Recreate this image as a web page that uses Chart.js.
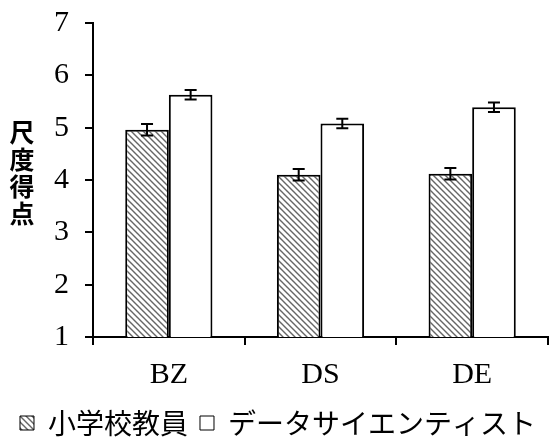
<!DOCTYPE html>
<html>
<head>
<meta charset="utf-8">
<script src="https://cdn.jsdelivr.net/npm/chart.js@4.4.1/dist/chart.umd.min.js"></script>
<style>
  html, body { margin: 0; padding: 0; background: #fff; }
  #wrap { width: 549px; height: 447px; position: relative; }
</style>
</head>
<body>
<div id="wrap"><canvas id="c"></canvas></div>
<script>
// Scale scores by group and subscale
const categories = ['BZ', 'DS', 'DE'];
const seriesNames = ['小学校教員', 'データサイエンティスト'];
const teacherMeans = [4.96, 4.10, 4.12];
const teacherErrors = [0.11, 0.11, 0.11];
const scientistMeans = [5.63, 5.08, 5.39];
const scientistErrors = [0.09, 0.09, 0.09];
const yTicks = [1, 2, 3, 4, 5, 6, 7];
const yTitleChars = ['尺', '度', '得', '点'];

const serif = "'Liberation Serif', 'Times New Roman', serif";
const cjk = "'Noto Sans CJK JP', 'Noto Sans', sans-serif";

// Diagonal hatch fill for the first series
function makeHatch() {
  const size = 6;
  const t = document.createElement('canvas');
  t.width = size; t.height = size;
  const g = t.getContext('2d');
  g.fillStyle = '#fff';
  g.fillRect(0, 0, size, size);
  g.strokeStyle = '#666';
  g.lineWidth = 1.4;
  g.beginPath();
  g.moveTo(-1, -1); g.lineTo(size + 1, size + 1);
  g.moveTo(-1, size - 1); g.lineTo(1, size + 1);
  g.moveTo(size - 1, -1); g.lineTo(size + 1, 1);
  g.stroke();
  return g.createPattern(t, 'repeat');
}
const ctx = document.getElementById('c').getContext('2d');
const hatch = makeHatch();

// Error bars drawn from the dataset errors through the y scale
const errorBars = {
  id: 'errorBars',
  afterDatasetsDraw(chart) {
    const c = chart.ctx;
    const y = chart.scales.y;
    chart.data.datasets.forEach((ds, di) => {
      const meta = chart.getDatasetMeta(di);
      meta.data.forEach((bar, i) => {
        const v = ds.data[i], e = ds.errors[i];
        const yTop = y.getPixelForValue(v + e);
        const yBot = y.getPixelForValue(v - e);
        const x = bar.x, half = 6;
        c.save();
        c.strokeStyle = '#000';
        c.lineWidth = 2;
        c.beginPath();
        c.moveTo(x, yTop); c.lineTo(x, yBot);
        c.moveTo(x - half, yTop); c.lineTo(x + half, yTop);
        c.moveTo(x - half, yBot); c.lineTo(x + half, yBot);
        c.stroke();
        c.restore();
      });
    });
  }
};

// Vertical, stacked y-axis title
const yTitle = {
  id: 'yTitle',
  afterDraw(chart) {
    const c = chart.ctx;
    c.save();
    c.fillStyle = '#000';
    c.font = "bold 25px " + cjk;
    c.textAlign = 'center';
    c.textBaseline = 'middle';
    const x = 22, y0 = 132, step = 27;
    yTitleChars.forEach((ch, i) => c.fillText(ch, x, y0 + i * step));
    c.restore();
  }
};

new Chart(ctx, {
  type: 'bar',
  data: {
    labels: categories,
    datasets: [
      {
        label: seriesNames[0],
        data: teacherMeans,
        errors: teacherErrors,
        backgroundColor: hatch,
        borderColor: '#000',
        borderWidth: 2,
        borderSkipped: false,
        categoryPercentage: 0.575,
        barPercentage: 1.0
      },
      {
        label: seriesNames[1],
        data: scientistMeans,
        errors: scientistErrors,
        backgroundColor: '#fff',
        borderColor: '#000',
        borderWidth: 2,
        borderSkipped: false,
        categoryPercentage: 0.575,
        barPercentage: 1.0
      }
    ]
  },
  options: {
    responsive: true,
    maintainAspectRatio: false,
    animation: false,
    devicePixelRatio: 1,
    layout: { padding: { left: 0, right: 1, top: 23, bottom: 0 } },
    plugins: {
      tooltip: { enabled: false },
      legend: {
        position: 'bottom',
        align: 'end',
        labels: {
          font: { family: cjk, size: 28 },
          color: '#000',
          boxWidth: 14,
          boxHeight: 14,
          padding: 12,
          generateLabels(chart) {
            return chart.data.datasets.map((ds, i) => ({
              text: ds.label,
              fillStyle: ds.backgroundColor,
              strokeStyle: '#000',
              lineWidth: 1,
              datasetIndex: i,
              hidden: false
            }));
          }
        }
      }
    },
    scales: {
      x: {
        grid: {
          display: true,
          drawOnChartArea: false,
          drawTicks: true,
          tickLength: 8,
          color: '#000',
          lineWidth: 2,
          offset: true
        },
        border: { display: true, color: '#000', width: 2 },
        ticks: {
          font: { family: serif, size: 30 },
          color: '#000',
          padding: 12
        },
        afterFit(scale) { scale.height = 60; scale.paddingLeft = 0; scale.paddingRight = 0; }
      },
      y: {
        min: 1,
        max: 7,
        afterBuildTicks(scale) { scale.ticks = yTicks.map(v => ({ value: v })); },
        grid: {
          display: true,
          drawOnChartArea: false,
          drawTicks: true,
          tickLength: 8,
          color: '#000',
          lineWidth: 2
        },
        border: { display: true, color: '#000', width: 2 },
        ticks: {
          font: { family: serif, size: 30 },
          color: '#000',
          padding: 16
        },
        afterFit(scale) { scale.width = 93; scale.paddingTop = 0; scale.paddingBottom = 0; }
      }
    }
  },
  plugins: [errorBars, yTitle]
});
</script>
</body>
</html>
